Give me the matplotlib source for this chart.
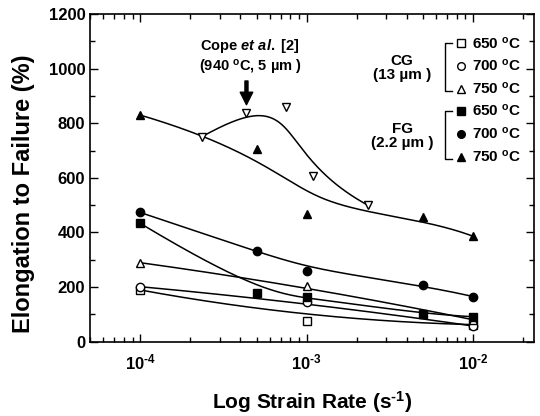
import numpy as np
import matplotlib.pyplot as plt
from matplotlib.ticker import MultipleLocator, LogLocator, NullFormatter, FixedLocator

plt.rcParams['font.family'] = ['Liberation Sans', 'DejaVu Sans']
plt.rcParams['font.weight'] = 'bold'
plt.rcParams['mathtext.fontset'] = 'custom'
plt.rcParams['mathtext.rm'] = 'Liberation Sans:bold'
plt.rcParams['mathtext.bf'] = 'Liberation Sans:bold'
plt.rcParams['mathtext.it'] = 'Liberation Sans:bold:italic'
plt.rcParams['mathtext.default'] = 'rm'
plt.rcParams['axes.unicode_minus'] = False

# strain rates (s^-1)
rate_cg = [1e-4, 1e-3, 1e-2]
rate_fg = [1e-4, 5e-4, 1e-3, 5e-3, 1e-2]
rate_cope = [2.35e-4, 4.3e-4, 7.5e-4, 1.1e-3, 2.33e-3]

# elongation to failure (%)
cg_650 = [189, 77, 62]
cg_700 = [201, 145, 57]
cg_750 = [289, 205, 80]
fg_650 = [433, 178, 165, 100, 91]
fg_700 = [473, 331, 260, 207, 165]
fg_750 = [830, 704, 469, 455, 386]
cope = [751, 839, 861, 608, 500]

temps = ['650 $^{o}$C', '700 $^{o}$C', '750 $^{o}$C']
xtick_vals = [1e-4, 1e-3, 1e-2]
xtick_labels = ['10$^{\\text{-}4}$', '10$^{\\text{-}3}$', '10$^{\\text{-}2}$']

fig = plt.figure(figsize=(5.4, 4.16), dpi=100)
ax = fig.add_axes([0.167, 0.179, 0.822, 0.787])


def bspline(x, y, n=200):
    # clamped B-spline with the data points as control points (Origin style)
    P = np.column_stack([np.log10(x), y])
    m = len(P)
    k = min(3, m - 1)
    inner = np.linspace(0, 1, m - k + 1)[1:-1]
    t = np.concatenate([np.zeros(k + 1), inner, np.ones(k + 1)])
    u = np.linspace(0, 1, n)
    u[-1] -= 1e-9
    N = np.zeros((n, len(t) - 1))
    for i in range(len(t) - 1):
        N[:, i] = (u >= t[i]) & (u < t[i + 1])
    for d in range(1, k + 1):
        Nn = np.zeros((n, len(t) - d - 1))
        for i in range(len(t) - d - 1):
            a = t[i + d] - t[i]
            b = t[i + d + 1] - t[i + 1]
            left = (u - t[i]) / a * N[:, i] if a > 0 else 0
            right = (t[i + d + 1] - u) / b * N[:, i + 1] if b > 0 else 0
            Nn[:, i] = left + right
        N = Nn
    C = N @ P
    return 10 ** C[:, 0], C[:, 1]


ms = 6
series = [
    (rate_cg, cg_650, 's', 'white'),
    (rate_cg, cg_700, 'o', 'white'),
    (rate_cg, cg_750, '^', 'white'),
    (rate_fg, fg_650, 's', 'black'),
    (rate_fg, fg_700, 'o', 'black'),
    (rate_fg, fg_750, '^', 'black'),
    (rate_cope, cope, 'v', 'white'),
]
for x, y, m, fc in series:
    fx, fy = bspline(x, y)
    ax.plot(fx, fy, color='black', lw=1.1)
    ax.plot(x, y, m, ms=ms, mfc=fc, mec='black', mew=1, ls='none', zorder=3)

ax.set_xscale('log')
ax.set_xlim(5e-5, 2.33e-2)
ax.set_ylim(0, 1200)
ax.yaxis.set_major_locator(MultipleLocator(200))
ax.yaxis.set_minor_locator(MultipleLocator(100))
ax.xaxis.set_major_locator(FixedLocator(xtick_vals))
ax.xaxis.set_minor_locator(LogLocator(base=10, subs=np.arange(2, 10), numticks=10))
ax.xaxis.set_minor_formatter(NullFormatter())
ax.set_xticklabels(xtick_labels)
ax.tick_params(which='both', direction='in', top=True, right=True, labelsize=12)
ax.tick_params(axis='x', pad=8)
ax.tick_params(which='major', length=6, width=1)
ax.tick_params(which='minor', length=3.5, width=1)
for lab in ax.get_xticklabels() + ax.get_yticklabels():
    lab.set_fontweight('bold')
for s in ax.spines.values():
    s.set_linewidth(1.2)

ax.set_xlabel('Log Strain Rate (s$^{\\text{-}1}$)', fontsize=15, fontweight='bold', labelpad=12)
ax.set_ylabel('Elongation to Failure (%)', fontsize=17, fontweight='bold')
ax.yaxis.set_label_coords(-0.125, 0.452)


def to_ax(px, py):
    return (px - 90) / 444, (341.7 - py) / 327.7


# Cope annotation
tx, ty = to_ax(250, 46)
ax.text(tx, ty, 'Cope $\\mathit{et\\ al.}$ [2]', transform=ax.transAxes,
        ha='center', va='center', fontsize=10.5, fontweight='bold')
tx, ty = to_ax(250, 67)
ax.text(tx, ty, '(940 $^{o}$C, 5 \u00b5m )', transform=ax.transAxes,
        ha='center', va='center', fontsize=10.5, fontweight='bold')
ax.annotate('', xy=(4.35e-4, 868), xytext=(4.35e-4, 955),
            arrowprops=dict(width=2.2, headwidth=9, headlength=9,
                            facecolor='black', edgecolor='black', shrink=0))

# custom legend
rows_y = [43, 66, 89, 111, 134, 157]
markers = ['s', 'o', '^', 's', 'o', '^']
fcs = ['white'] * 3 + ['black'] * 3
for i, ry in enumerate(rows_y):
    mx, my = to_ax(461, ry)
    ax.plot(mx, my, markers[i], ms=5.5, mfc=fcs[i], mec='black', mew=1,
            transform=ax.transAxes, clip_on=False)
    tx, ty = to_ax(472, ry)
    ax.text(tx, ty, temps[i % 3], transform=ax.transAxes, ha='left', va='center',
            fontsize=11, fontweight='bold')

for top, bot in [(43, 91), (111, 159)]:
    x0, y0 = to_ax(445, top)
    x1, y1 = to_ax(452, bot)
    ax.plot([x1, x0, x0, x1], [y0, y0, y1, y1], color='black', lw=1,
            transform=ax.transAxes, clip_on=False)

for label, sub, cy in [('CG', '(13 \u00b5m )', 68), ('FG', '(2.2 \u00b5m )', 136)]:
    lx, ly = to_ax(402, cy - 7)
    ax.text(lx, ly, label, transform=ax.transAxes, ha='center', va='center',
            fontsize=11, fontweight='bold')
    lx, ly = to_ax(402, cy + 7)
    ax.text(lx, ly, sub, transform=ax.transAxes, ha='center', va='center',
            fontsize=11, fontweight='bold')

fig.savefig('out.png', dpi=100)
